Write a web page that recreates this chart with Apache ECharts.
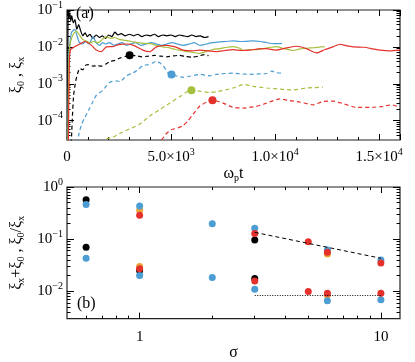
<!DOCTYPE html>
<html>
<head>
<meta charset="utf-8">
<script src="https://cdn.jsdelivr.net/npm/echarts@6/dist/echarts.min.js"></script>
<style>
  html, body { margin: 0; padding: 0; background: #fff; }
  #chart { width: 415px; height: 362px; }
</style>
</head>
<body>
<div id="chart"></div>
<script>
// panel (a): xi_0 (solid) and xi_x (dashed) against omega_p t
const blackSolid = [[20,1e-5],[45,0.03],[60,0.095],[90,0.06],[130,0.085],[180,0.05],[230,0.07],[300,0.045],[380,0.055],[470,0.03],[560,0.04],[650,0.028],[760,0.02],[870,0.024],[980,0.019],[1100,0.022],[1240,0.017],[1400,0.021],[1550,0.018],[1700,0.02],[1850,0.017],[2000,0.021],[2150,0.019],[2300,0.025],[2450,0.021],[2600,0.023],[2800,0.02],[3000,0.022],[3200,0.02],[3400,0.022],[3600,0.019],[3800,0.021],[4000,0.02],[4200,0.022],[4400,0.019],[4600,0.021],[4800,0.02],[5000,0.021],[5200,0.019],[5400,0.021],[5600,0.02],[5800,0.019],[6000,0.021],[6200,0.019],[6400,0.02],[6600,0.018],[6800,0.019]]
const blueSolid = [[40,1e-5],[80,0.005],[150,0.014],[220,0.025],[370,0.03],[480,0.02],[600,0.013],[750,0.012],[900,0.014],[1050,0.012],[1250,0.019],[1400,0.013],[1570,0.011],[1700,0.013],[1850,0.012],[2050,0.013],[2250,0.011],[2450,0.012],[2650,0.013],[2850,0.011],[3050,0.012],[3300,0.013],[3550,0.011],[3800,0.012],[4050,0.013],[4300,0.012],[4550,0.011],[4800,0.012],[5050,0.013],[5300,0.012],[5600,0.011],[5900,0.012],[6100,0.013],[6380,0.011],[6700,0.012],[7000,0.013],[7340,0.0137],[7650,0.014],[7980,0.0146],[8300,0.014],[8600,0.0142],[8940,0.0146],[9300,0.014],[9600,0.013],[10000,0.0122],[10330,0.0125]]
const greenSolid = [[40,1e-5],[90,0.004],[160,0.013],[300,0.022],[450,0.027],[600,0.021],[750,0.016],[900,0.0146],[1100,0.013],[1300,0.014],[1500,0.013],[1700,0.016],[1900,0.019],[2100,0.017],[2300,0.018],[2500,0.016],[2800,0.015],[3100,0.014],[3400,0.013],[3700,0.0125],[4000,0.0122],[4300,0.011],[4600,0.01],[4900,0.0095],[5200,0.0085],[5500,0.008],[5800,0.0074],[6100,0.007],[6380,0.0067],[6700,0.0075],[7000,0.0085],[7340,0.009],[7700,0.0098],[7980,0.0102],[8300,0.0092],[8480,0.008],[8800,0.0085],[9100,0.0084],[9500,0.0092],[9800,0.0098],[10080,0.0102],[10400,0.009],[10870,0.008],[11200,0.0088],[11510,0.0092],[11900,0.0096],[12200,0.01],[12390,0.0101]]
const redSolid = [[60,1e-5],[110,0.003],[160,0.0082],[380,0.0102],[610,0.012],[850,0.014],[1000,0.013],[1170,0.0112],[1410,0.0082],[1650,0.0074],[1890,0.01],[2200,0.0102],[2530,0.0117],[2850,0.012],[3200,0.011],[3640,0.0082],[3980,0.0074],[4300,0.01],[4780,0.011],[5200,0.01],[5580,0.0082],[6000,0.0078],[6380,0.0082],[7180,0.0074],[7600,0.008],[7980,0.0084],[8400,0.008],[8780,0.0082],[9200,0.0088],[9590,0.009],[10000,0.0082],[10550,0.0094],[11030,0.0104],[11500,0.009],[11990,0.0069],[12400,0.0085],[12780,0.01],[13110,0.0118],[13400,0.0108],[13750,0.01],[14300,0.0098],[14700,0.0088],[15030,0.0082],[15500,0.0078],[16000,0.0082]]
const blackDashed = [[180,1e-5],[250,1e-4],[320,5e-4],[420,1.2e-3],[520,2.0e-3],[620,2.6e-3],[760,2.4e-3],[900,3.2e-3],[1050,3.3e-3],[1250,3.0e-3],[1450,3.1e-3],[1650,3.0e-3],[1850,3.4e-3],[2050,4.0e-3],[2300,4.3e-3],[2550,5.0e-3],[2800,5.5e-3],[3010,5.9e-3],[3300,5.8e-3],[3600,5.4e-3],[3900,5.6e-3],[4200,5.9e-3],[4500,5.6e-3],[4800,5.4e-3],[5100,5.7e-3],[5400,5.9e-3],[5700,5.5e-3],[6000,5.3e-3],[6300,5.6e-3],[6600,6.2e-3],[6800,5.8e-3]]
const blueDashed = [[480,1e-5],[560,4e-5],[700,8e-5],[850,1.2e-4],[1090,2.2e-4],[1250,3.3e-4],[1410,4.9e-4],[1730,6.7e-4],[2050,1.1e-3],[2370,1.2e-3],[2550,1.15e-3],[2850,1.65e-3],[3180,2.0e-3],[3400,2.4e-3],[3640,3.1e-3],[3900,3.3e-3],[4130,3.7e-3],[4300,4.1e-3],[4450,3.7e-3],[4620,3.1e-3],[4850,2.0e-3],[5020,1.8e-3],[5300,1.6e-3],[5580,1.5e-3],[5900,1.6e-3],[6380,1.8e-3],[6860,1.65e-3],[7180,1.8e-3],[7600,1.9e-3],[7980,1.95e-3],[8400,1.85e-3],[8780,1.8e-3],[9200,1.85e-3],[9590,1.9e-3],[9830,2.2e-3],[10050,2.0e-3],[10300,1.95e-3]]
const greenDashed = [[1890,3.2e-5],[2210,3.6e-5],[2530,4.5e-5],[3010,6e-5],[3500,8.1e-5],[3980,1.35e-4],[4460,2e-4],[4940,3e-4],[5420,4.5e-4],[5740,6e-4],[5980,6.7e-4],[6380,6.3e-4],[6860,5.8e-4],[7180,6.1e-4],[7600,6.8e-4],[7980,7.7e-4],[8480,9.6e-4],[8940,8.5e-4],[9590,7.7e-4],[10000,7.4e-4],[10390,7.1e-4],[10870,6.8e-4],[11510,7.7e-4],[11900,7.9e-4],[12300,8.2e-4]]
const redDashed = [[4540,3e-5],[4780,4.5e-5],[5020,5.7e-5],[5340,6.4e-5],[5580,7.4e-5],[5820,1e-4],[6060,1.5e-4],[6380,2.5e-4],[6700,3.2e-4],[6990,3.6e-4],[7500,3e-4],[7980,2.3e-4],[8460,2.2e-4],[9100,2.45e-4],[9590,3e-4],[10230,3.9e-4],[10700,3.5e-4],[11190,3.2e-4],[11830,2.7e-4],[12300,3.3e-4],[12790,3.4e-4],[13270,2.9e-4],[13910,2.3e-4],[14550,2.3e-4],[15190,2.45e-4],[15600,2.7e-4],[16000,2.3e-4]]
// marked saturation points on the dashed curves
const markBlack = [[3010,5.9e-3]]
const markBlue = [[5020,1.8e-3]]
const markGreen = [[5980,6.7e-4]]
const markRed = [[6990,3.6e-4]]

// panel (b): xi_x+xi_0 (upper group) and xi_0/xi_x (lower group) against sigma
const bBlack = [[0.6,0.57],[0.6,0.070],[1,0.025],[3,0.096],[3,0.0176]]
const bOrange = [[1,0.357],[1,0.030],[6,0.052],[6,0.0085]]
const bBlue = [[0.6,0.46],[0.6,0.043],[1,0.43],[1,0.020],[2,0.198],[2,0.0184],[3,0.161],[3,0.011],[6,0.062],[6,0.0066],[10,0.040],[10,0.0069]]
const bRed = [[1,0.287],[1,0.027],[3,0.128],[3,0.0157],[5,0.089],[5,0.0099],[6,0.056],[6,0.0092],[10,0.035],[10,0.0092]]
const fitSum = [[3,0.135],[10,0.043]]
const fitRatio = [[3,0.0083],[10,0.0083]]

// tick labels
const xTickValsA = [0, 5000, 10000, 15000]
const xTickLabelsA = ['{b|0}', '{b|5.0×10}{p|3}', '{b|1.0×10}{p|4}', '{b|1.5×10}{p|4}']
const yTickValsA = [1e-4, 1e-3, 1e-2, 1e-1]
const yTickLabelsA = ['{b|10}{p|−4}', '{b|10}{p|−3}', '{b|10}{p|−2}', '{b|10}{p|−1}']
const xTickValsB = [1, 10]
const xTickLabelsB = ['{b|1}', '{b|10}']
const yTickValsB = [1e-2, 1e-1, 1]
const yTickLabelsB = ['{b|10}{p|−2}', '{b|10}{p|−1}', '{b|10}{p|0}']

const FONT = '"Liberation Serif", "DejaVu Serif", serif'
const C = { black: '#000000', blue: '#4b9dd3', green: '#a4c03c', red: '#e4312b', orange: '#eea53a' }

const RICH = {
  b: { fontFamily: FONT, fontSize: 15, color: '#000', lineHeight: 20, verticalAlign: 'middle' },
  p: { fontFamily: FONT, fontSize: 10, color: '#000', lineHeight: 10, verticalAlign: 'top' },
  a: { fontFamily: FONT, fontSize: 16, color: '#000', lineHeight: 20, verticalAlign: 'middle' },
  s: { fontFamily: FONT, fontSize: 10, color: '#000', lineHeight: 10, verticalAlign: 'bottom' }
}

function pick(vals, labels, v) {
  for (let i = 0; i < vals.length; i++) {
    if (Math.abs(v - vals[i]) <= Math.abs(vals[i]) * 1e-6 + 1e-12) return labels[i]
  }
  return ''
}

// minor log ticks at 2..9 x 10^k inside [lo, hi]
function logMinors(lo, hi) {
  const out = []
  for (let k = -6; k <= 2; k++) {
    for (let m = 2; m <= 9; m++) {
      const v = m * Math.pow(10, k)
      if (v > lo * 1.0001 && v < hi * 0.9999) out.push(+v.toPrecision(6))
    }
  }
  return out
}

function axis(gridIndex, type, position, min, max, tickLen, custom) {
  const a = {
    gridIndex, type, position, min, max,
    axisLine: { show: false, onZero: false },
    axisTick: { show: true, inside: true, length: tickLen, lineStyle: { color: '#000', width: 1 } },
    axisLabel: { show: false },
    splitLine: { show: false }
  }
  if (type === 'log') a.logBase = 10
  if (custom) a.axisTick.customValues = custom
  return a
}

function withLabels(a, vals, labels, margin) {
  a.axisLabel = {
    show: true, margin, customValues: vals, rich: RICH, fontFamily: FONT,
    formatter: v => pick(vals, labels, v)
  }
  return a
}

const A_XMIN = 0, A_XMAX = 16000, A_YMIN = 3e-5, A_YMAX = 0.1
const B_XMIN = 0.5, B_XMAX = 12, B_YMIN = 0.003, B_YMAX = 1

// panel (a) x axes
const xa0 = withLabels(axis(0, 'value', 'bottom', A_XMIN, A_XMAX, 6), xTickValsA, xTickLabelsA, 7)
xa0.interval = 5000
xa0.minorTick = { show: true, splitNumber: 5, length: 3, lineStyle: { color: '#000' } }
xa0.name = '{a|ω}{s|p}{a|t}'
xa0.nameLocation = 'middle'
xa0.nameGap = 22
xa0.nameTextStyle = { rich: RICH, fontFamily: FONT }
const xa1 = axis(0, 'value', 'top', A_XMIN, A_XMAX, 6)
xa1.interval = 5000
xa1.minorTick = { show: true, splitNumber: 5, length: 3, lineStyle: { color: '#000' } }

// panel (b) x axes
const xb0 = withLabels(axis(1, 'log', 'bottom', B_XMIN, B_XMAX, 6, xTickValsB), xTickValsB, xTickLabelsB, 8)
xb0.name = '{a|σ}'
xb0.nameLocation = 'middle'
xb0.nameGap = 24
xb0.nameTextStyle = { rich: RICH, fontFamily: FONT }
const xb1 = axis(1, 'log', 'bottom', B_XMIN, B_XMAX, 3, logMinors(B_XMIN, B_XMAX))
const xb2 = axis(1, 'log', 'top', B_XMIN, B_XMAX, 6, xTickValsB)
const xb3 = axis(1, 'log', 'top', B_XMIN, B_XMAX, 3, logMinors(B_XMIN, B_XMAX))

// panel (a) y axes
const ya0 = withLabels(axis(0, 'log', 'left', A_YMIN, A_YMAX, 7, yTickValsA), yTickValsA, yTickLabelsA, 4)
ya0.name = '{a|ξ}{s|0}{a| , ξ}{s|x}'
ya0.nameLocation = 'middle'
ya0.nameGap = 36
ya0.nameTextStyle = { rich: RICH, fontFamily: FONT }
const ya1 = axis(0, 'log', 'left', A_YMIN, A_YMAX, 3.5, logMinors(A_YMIN, A_YMAX))
const ya2 = axis(0, 'log', 'right', A_YMIN, A_YMAX, 7, yTickValsA)
const ya3 = axis(0, 'log', 'right', A_YMIN, A_YMAX, 3.5, logMinors(A_YMIN, A_YMAX))

// panel (b) y axes
const yb0 = withLabels(axis(1, 'log', 'left', B_YMIN, B_YMAX, 7, yTickValsB), yTickValsB, yTickLabelsB, 4)
yb0.name = '{a|ξ}{s|x}{a|+ξ}{s|0}{a| , ξ}{s|0}{a|/ξ}{s|x}'
yb0.nameLocation = 'middle'
yb0.nameGap = 36
yb0.nameTextStyle = { rich: RICH, fontFamily: FONT }
const yb1 = axis(1, 'log', 'left', B_YMIN, B_YMAX, 3.5, logMinors(B_YMIN, B_YMAX))
const yb2 = axis(1, 'log', 'right', B_YMIN, B_YMAX, 7, yTickValsB)
const yb3 = axis(1, 'log', 'right', B_YMIN, B_YMAX, 3.5, logMinors(B_YMIN, B_YMAX))

function curve(data, color, dashed) {
  return {
    type: 'line', xAxisIndex: 0, yAxisIndex: 0, data,
    showSymbol: false, symbol: 'none', smooth: 0.2, animation: false,
    lineStyle: { color, width: 1.2, type: dashed ? [4, 3] : 'solid' }
  }
}

function dots(data, color, x, y, size) {
  return {
    type: 'scatter', xAxisIndex: x, yAxisIndex: y, data,
    symbolSize: size, animation: false,
    itemStyle: { color, opacity: 1 }
  }
}

const chart = echarts.init(document.getElementById('chart'), null, { renderer: 'canvas' })

const option = {
  backgroundColor: '#fff',
  animation: false,
  textStyle: { fontFamily: FONT },
  grid: [
    { left: 67, top: 5, width: 333, height: 135, show: true, borderColor: '#222', borderWidth: 1.2, backgroundColor: 'transparent' },
    { left: 67, top: 187, width: 333, height: 134, show: true, borderColor: '#222', borderWidth: 1.2, backgroundColor: 'transparent' }
  ],
  xAxis: [xa0, xa1, xb0, xb1, xb2, xb3],
  yAxis: [ya0, ya1, ya2, ya3, yb0, yb1, yb2, yb3],
  graphic: [
    { type: 'text', left: 76, top: 6, style: { text: '(a)', font: '16px "Liberation Serif"', fill: '#000' } },
    { type: 'text', left: 77, top: 296, style: { text: '(b)', font: '16px "Liberation Serif"', fill: '#000' } }
  ],
  series: [
    curve(blackSolid, C.black, false),
    curve(blueSolid, C.blue, false),
    curve(greenSolid, C.green, false),
    curve(redSolid, C.red, false),
    curve(blackDashed, C.black, true),
    curve(blueDashed, C.blue, true),
    curve(greenDashed, C.green, true),
    curve(redDashed, C.red, true),
    dots(markBlack, C.black, 0, 0, 8),
    dots(markBlue, C.blue, 0, 0, 8),
    dots(markGreen, C.green, 0, 0, 8),
    dots(markRed, C.red, 0, 0, 8),
    {
      type: 'line', xAxisIndex: 2, yAxisIndex: 4, data: fitSum, symbol: 'none', animation: false,
      lineStyle: { color: '#000', width: 1, type: [4, 3] }
    },
    {
      type: 'line', xAxisIndex: 2, yAxisIndex: 4, data: fitRatio, symbol: 'none', animation: false,
      lineStyle: { color: '#000', width: 1, type: [1, 1.5] }
    },
    dots(bBlack, C.black, 2, 4, 7),
    dots(bOrange, C.orange, 2, 4, 7),
    dots(bBlue, C.blue, 2, 4, 7),
    dots(bRed, C.red, 2, 4, 7)
  ]
}

chart.setOption(option)
</script>
</body>
</html>
